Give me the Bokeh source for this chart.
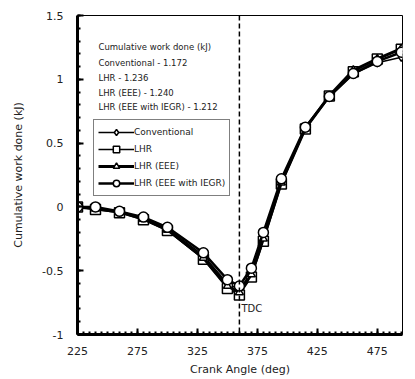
from bokeh.plotting import figure
from bokeh.models import (Span, Label, Legend, LegendItem, FixedTicker,
                          CustomJSTickFormatter, Range1d)
from bokeh.embed import file_html
from bokeh.resources import INLINE

crank_angle = [225, 240, 260, 280, 300, 330, 350, 360, 370, 380, 395, 415, 435, 455, 475, 495]
conventional = [0, -0.01, -0.04, -0.09, -0.17, -0.38, -0.60, -0.65, -0.51, -0.23, 0.20, 0.62, 0.87, 1.04, 1.13, 1.172]
lhr = [0, -0.02, -0.045, -0.10, -0.185, -0.41, -0.64, -0.69, -0.55, -0.27, 0.18, 0.61, 0.87, 1.06, 1.16, 1.236]
lhr_eee = [0, -0.015, -0.04, -0.095, -0.18, -0.40, -0.62, -0.67, -0.53, -0.25, 0.19, 0.615, 0.87, 1.07, 1.16, 1.240]
lhr_eee_iegr = [0, 0, -0.035, -0.08, -0.16, -0.36, -0.57, -0.62, -0.48, -0.20, 0.22, 0.625, 0.865, 1.045, 1.14, 1.212]

series_names = ["Conventional", "LHR", "LHR (EEE)", "LHR (EEE with IEGR)"]
series_values = [conventional, lhr, lhr_eee, lhr_eee_iegr]
markers = ["diamond", "square", "triangle", "circle"]
marker_sizes = [8, 10, 8, 10]
line_widths = [1.5, 1.5, 3, 2.5]

annotation_title = "Cumulative work done (kJ)"
annotation_lines = ["Conventional - 1.172", "LHR - 1.236", "LHR (EEE) - 1.240",
                    "LHR (EEE with IEGR) - 1.212"]

x_ticks = [225, 275, 325, 375, 425, 475]
y_ticks = [-1, -0.5, 0, 0.5, 1, 1.5]
tdc_angle = 360

FONT = "DejaVu Sans"

p = figure(width=415, height=379, output_backend="svg", toolbar_location=None,
           x_range=Range1d(225, 496), y_range=Range1d(-1, 1.5),
           min_border_left=77, min_border_right=13, min_border_top=15, min_border_bottom=45)

p.xgrid.visible = False
p.ygrid.visible = False
p.outline_line_color = "black"
p.outline_line_width = 1
p.background_fill_color = "white"
p.border_fill_color = "white"

# axes
p.xaxis.ticker = FixedTicker(ticks=x_ticks, minor_ticks=list(range(225, 500, 5)))
p.yaxis.ticker = FixedTicker(ticks=y_ticks, minor_ticks=[round(-1 + 0.1 * i, 2) for i in range(26)])
p.yaxis.formatter = CustomJSTickFormatter(code="return String(Math.round(tick*10)/10);")
for ax in (p.xaxis[0], p.yaxis[0]):
    ax.axis_line_width = 3
    ax.axis_line_color = "black"
    ax.major_tick_in = 6
    ax.major_tick_out = 0
    ax.minor_tick_in = 3
    ax.minor_tick_out = 0
    ax.major_tick_line_width = 2
    ax.minor_tick_line_width = 2
    ax.major_label_text_font = FONT
    ax.major_label_text_font_size = "11px"
    ax.major_label_text_color = "#222222"
    ax.axis_label_text_font = FONT
    ax.axis_label_text_font_size = "11px"
    ax.axis_label_text_font_style = "normal"
    ax.axis_label_text_color = "#222222"
p.xaxis.axis_label = "Crank Angle (deg)"
p.yaxis.axis_label = "Cumulative work done (kJ)"
p.xaxis.major_label_standoff = 12
p.xaxis.axis_label_standoff = 5
p.yaxis.major_label_standoff = 14
p.yaxis.axis_label_standoff = 14

# TDC line
p.add_layout(Span(location=tdc_angle, dimension="height", line_color="black",
                  line_width=1.5, line_dash="5 3"))
p.add_layout(Label(x=tdc_angle, y=-0.8, text="TDC", x_offset=2, text_font=FONT,
                   text_font_size="10px", text_color="#222222", text_baseline="middle"))

items = []
for name, vals, mk, ms, lw in zip(series_names, series_values, markers, marker_sizes, line_widths):
    r_line = p.line(crank_angle, vals, line_color="black", line_width=lw)
    r_pts = p.scatter(crank_angle, vals, marker=mk, size=ms, fill_color="white",
                      line_color="black", line_width=1.5)
    items.append(LegendItem(label=name, renderers=[r_line, r_pts]))

legend = Legend(items=items, location=(16, 138), border_line_color="black",
                border_line_width=1, label_text_font=FONT, label_text_font_size="9px",
                label_text_color="#222222", glyph_width=36, glyph_height=16,
                label_height=16, spacing=1, padding=4, margin=0, label_standoff=0,
                background_fill_color="white")
p.add_layout(legend)

# annotation text block
ann_y = [1.255, 1.13, 1.01, 0.895, 0.78]
for txt, yy in zip([annotation_title] + annotation_lines, ann_y):
    p.add_layout(Label(x=242.5, y=yy, text=txt, text_font=FONT, text_font_size="8.5px",
                       text_color="#222222", text_baseline="middle"))

open("out.html", "w").write(file_html(p, INLINE))
